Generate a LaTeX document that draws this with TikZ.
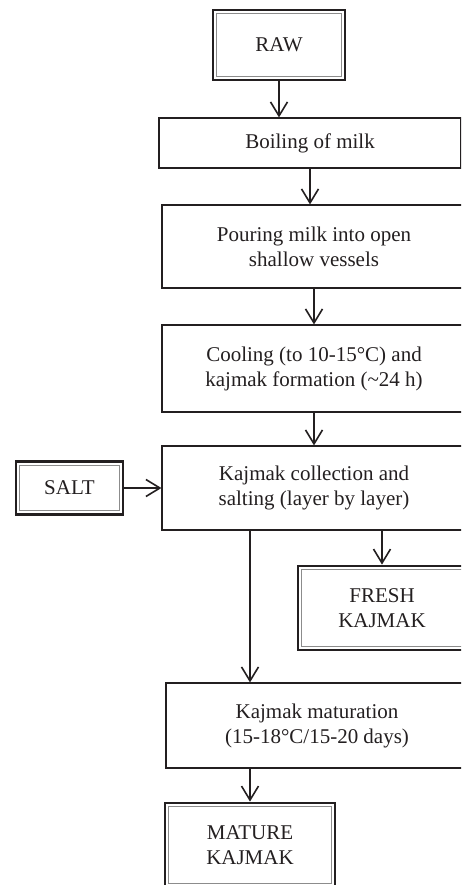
\documentclass[tikz,border=0pt]{standalone}
\usepackage{fontspec}
\setmainfont{Liberation Serif}
\usetikzlibrary{arrows.meta}
\definecolor{kjInk}{HTML}{231F20}
\definecolor{kjGray}{HTML}{8C8C8C}
\tikzset{
  kj step/.style={draw=kjInk, line width=1.1pt, align=center, inner sep=0pt, text=kjInk, font=\fontsize{21}{25}\selectfont},
  kj end/.style={kj step, line width=2.8pt,
    path picture={\draw[kjGray, line width=1pt]([shift={(3.6pt,3.6pt)}]path picture bounding box.south west) rectangle ([shift={(-3.6pt,-3.6pt)}]path picture bounding box.north east);}},
  kj flow/.style={draw=kjInk, line width=1.6pt, -{Straight Barb[length=14pt,width=17pt]}},
}

\begin{document}
\begin{tikzpicture}[x=1pt,y=-1pt]
\useasboundingbox(0,0)rectangle(461,885);
\clip(0,0)rectangle(461,885);
% process steps
\node[kj end,minimum width=132pt,minimum height=70pt](raw)at(279,45){RAW};
\node[kj step,minimum width=302pt,minimum height=50pt](boil)at(310,143){Boiling of milk};
\node[kj step,minimum width=304pt,minimum height=83pt](pour)at(314,246.5){Pouring milk into open\\shallow vessels};
\node[kj step,minimum width=304pt,minimum height=87pt](cool)at(314,368.5){Cooling (to 10-15°C) and\\kajmak formation (\textasciitilde24 h)};
\node[kj step,minimum width=304pt,minimum height=84pt](coll)at(314,488){Kajmak collection and\\salting (layer by layer)};
\node[kj end,minimum width=107pt,minimum height=53pt](salt)at(69.5,488){SALT};
\node[kj end,minimum width=168pt,minimum height=84pt](fresh)at(382,608){FRESH\\KAJMAK};
\node[kj step,minimum width=302pt,minimum height=85pt](mat)at(317,725.5){Kajmak maturation\\(15-18°C/15-20 days)};
\node[kj end,minimum width=170pt,minimum height=84pt](mature)at(250,845){MATURE\\KAJMAK};
% arrows
\draw[kj flow](raw.south)--(raw.south|-boil.north);
\draw[kj flow](boil.south)--(boil.south|-pour.north);
\draw[kj flow](pour.south)--(pour.south|-cool.north);
\draw[kj flow](cool.south)--(cool.south|-coll.north);
\draw[kj flow](salt.east)--(salt.east-|coll.west);
\draw[kj flow](coll.south-|fresh.north)--(fresh.north);
\draw[kj flow](coll.south-|mature.north)--(mature.north|-mat.north);
\draw[kj flow](mature.north|-mat.south)--(mature.north);
\end{tikzpicture}
\end{document}
